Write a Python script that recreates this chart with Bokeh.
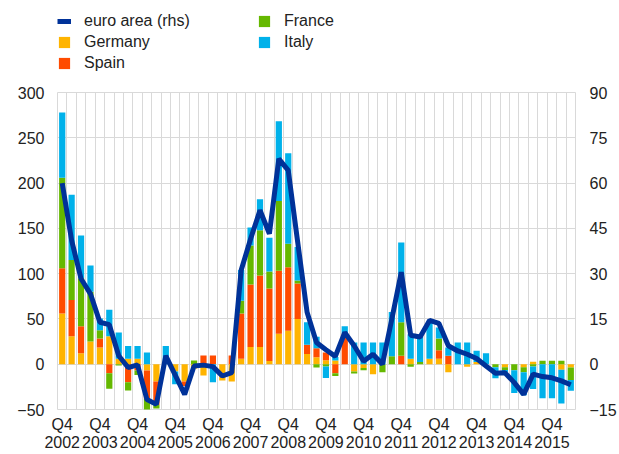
import numpy as np
from bokeh.plotting import figure
from bokeh.layouts import column
from bokeh.models import Range1d, LinearAxis, FixedTicker, Legend, LegendItem
from bokeh.embed import file_html
from bokeh.resources import INLINE

# ---- data (quarterly, 2002 Q4 .. 2016 Q2) ----
germany = [56, 31, 12, 25, 18.5, 31, 6, 6, 6, -7, -19, 0, -8, -19, -5, -12.5, 0, -18, -19,
           6, 19, 19, 3.5, 33.6, 37, 50, 11.4, 7.7, 4.5, 4, 0, -8, -4.2, -11, 0, 0, 0, 6, 0,
           6, 6, -9, 0, -2.8, 2.4, 0, 0, -3.3, 0, -3.4, 2.8, 0, 0, -6, -3.7]
spain = [50, 40, 30, 0, 10, -10, 0, -20, -7, -31, -26, 0, 0, -5, 0, 9.6, 9.6, 0, 9.6,
         50, 69, 79, 80, 69.7, 70, 39, 10, 10, 8.5, -10, 33.5, 0, 0, 0, 0, 0, 9.4, 0, 0,
         0, 9.5, 9.4, 0, 0, 0, 0, 0, 0, 0, 0, 0, 0, 0, 0, 0]
france = [100, 44, 53, 55, 9, -17, -1.5, -9, -5, -14, -4, 0, 0, 0, 4, 0, 0, 0, 0,
          14, 43, 50, 19, 77, 26, 3.3, 0, -3.7, -2.6, -3, 0, -2.3, -2.6, 0, -9, 8.7, 37, -2.8, 2.5,
          0, 13, 0, 0, 0, 0, 0, -3.4, -3.2, -6.8, -5.5, -2.4, 3.7, 3.7, 3.7, -13.6]
italy = [72, 72, 47, 29, 13, 29, 29, 14, 14, 13, 0, 20, -14, 0, 0, 0, -20, 0, 0,
         34, 20, 34, 37, 88, 100, 37, 25, 12.5, -12.5, 4, 8.5, 24, 24, 24, 24, 49, 88, 27, 28,
         40, 12, 9, 24, 24, 12.5, 12, -12, -2, -25, -25.5, -25, -37.6, -37.6, -37.3, -12]
euro_area = [60, 41, 28.3, 23.3, 13.9, 13.1, 2.8, -1.1, -0.2, -11.7, -13.3, 2.8, -3.6, -10, -0.6,
             -0.3, -0.8, -3.9, -2.8, 31.1, 41.5, 51, 43.2, 68, 64.2, 40.5, 17.2, 7.2, 4.8, 2.6,
             10.5, 6.1, 1, 3.3, 0, 15, 30.5, 9.6, 9, 14.5, 13.5, 6.1, 4.4, 3.3, 1.9, -0.6, -3,
             -2.8, -6.1, -10, -3.3, -4.1, -4.5, -5.5, -6.8]
years = ["2002", "2003", "2004", "2005", "2006", "2007", "2008", "2009", "2010",
         "2011", "2012", "2013", "2014", "2015"]
left_ticks = [-50, 0, 50, 100, 150, 200, 250, 300]
right_ticks = [-15, 0, 15, 30, 45, 60, 75, 90]

n = len(euro_area)
x = np.arange(n)

FONT = "Liberation Sans"
GRID = "#d9d9d9"
TXT = "#222222"
COLORS = {"Germany": "#FFB400", "Spain": "#FF4B00", "France": "#65B800", "Italy": "#00B1EA"}
LINE_COLOR = "#003299"

# ---------------- main chart ----------------
p = figure(width=619, height=378, output_backend="svg", toolbar_location=None,
           x_range=Range1d(-0.5, n - 0.5), y_range=Range1d(-50, 300),
           min_border_left=57, min_border_right=37, min_border_top=16, min_border_bottom=44)
p.extra_y_ranges = {"rhs": Range1d(-15, 90)}
p.outline_line_color = GRID

xa = p.xaxis[0]
xa.ticker = FixedTicker(ticks=[i * 4 for i in range(len(years))])
xa.major_label_overrides = {i * 4: "Q4\n" + y for i, y in enumerate(years)}
ya = p.yaxis[0]
ya.ticker = FixedTicker(ticks=left_ticks)
ra = LinearAxis(y_range_name="rhs", ticker=FixedTicker(ticks=right_ticks))
p.add_layout(ra, "right")
for ax in (xa, ya, ra):
    ax.axis_line_color = None
    ax.major_tick_line_color = None
    ax.minor_tick_line_color = None
    ax.major_tick_in = 0
    ax.major_tick_out = 0
    ax.major_label_text_font = FONT
    ax.major_label_text_font_size = "16px"
    ax.major_label_text_color = TXT
xa.major_label_standoff = 6
xa.major_label_text_line_height = 1.1
ya.major_label_standoff = 13
ra.major_label_standoff = 14

p.xgrid[0].ticker = FixedTicker(ticks=[i - 0.5 for i in range(n + 1)])
p.xgrid[0].grid_line_color = GRID
p.ygrid[0].grid_line_color = GRID

# stacked bars: positives stacked upward, negatives downward
series = [("Germany", germany), ("Spain", spain), ("France", france), ("Italy", italy)]
pos = np.zeros(n)
neg = np.zeros(n)
for name, vals in series:
    v = np.array(vals, dtype=float)
    bottom = np.where(v >= 0, pos, neg)
    top = bottom + v
    pos = np.where(v >= 0, top, pos)
    neg = np.where(v < 0, top, neg)
    p.vbar(x=x, bottom=bottom, top=top, width=0.66, fill_color=COLORS[name], line_color=None)

p.line(x, euro_area, y_range_name="rhs", line_color=LINE_COLOR, line_width=5)

# ---------------- legend strip ----------------
lg = figure(width=619, height=76, output_backend="svg", toolbar_location=None,
            x_axis_type=None, y_axis_type=None, x_range=Range1d(0, 1), y_range=Range1d(0, 1),
            min_border_left=0, min_border_right=0, min_border_top=0, min_border_bottom=0)
lg.outline_line_color = None
lg.grid.visible = False
# legend-only renderers, placed outside the visible range
r_line = lg.line([-5, -4], [-5, -5], line_color=LINE_COLOR, line_width=5)
r_bar = {k: lg.vbar(x=[-5], top=[-5], bottom=[-6], width=0.5, fill_color=c, line_color=None)
         for k, c in COLORS.items()}


def make_legend(items, loc):
    return Legend(items=items, location=loc, orientation="vertical",
                  border_line_color=None, background_fill_alpha=0,
                  padding=0, margin=0, spacing=0,
                  glyph_width=14, glyph_height=14, label_height=21,
                  label_standoff=13, label_text_font=FONT,
                  label_text_font_size="16px", label_text_color=TXT)


leg1 = make_legend([LegendItem(label="euro area (rhs)", renderers=[r_line]),
                    LegendItem(label="Germany", renderers=[r_bar["Germany"]]),
                    LegendItem(label="Spain", renderers=[r_bar["Spain"]])], (0, 3))
leg2 = make_legend([LegendItem(label="France", renderers=[r_bar["France"]]),
                    LegendItem(label="Italy", renderers=[r_bar["Italy"]])], (200, 24))
lg.add_layout(leg1, "center")
lg.add_layout(leg2, "center")

layout = column(lg, p, spacing=0)
open("out.html", "w").write(file_html(layout, INLINE))
